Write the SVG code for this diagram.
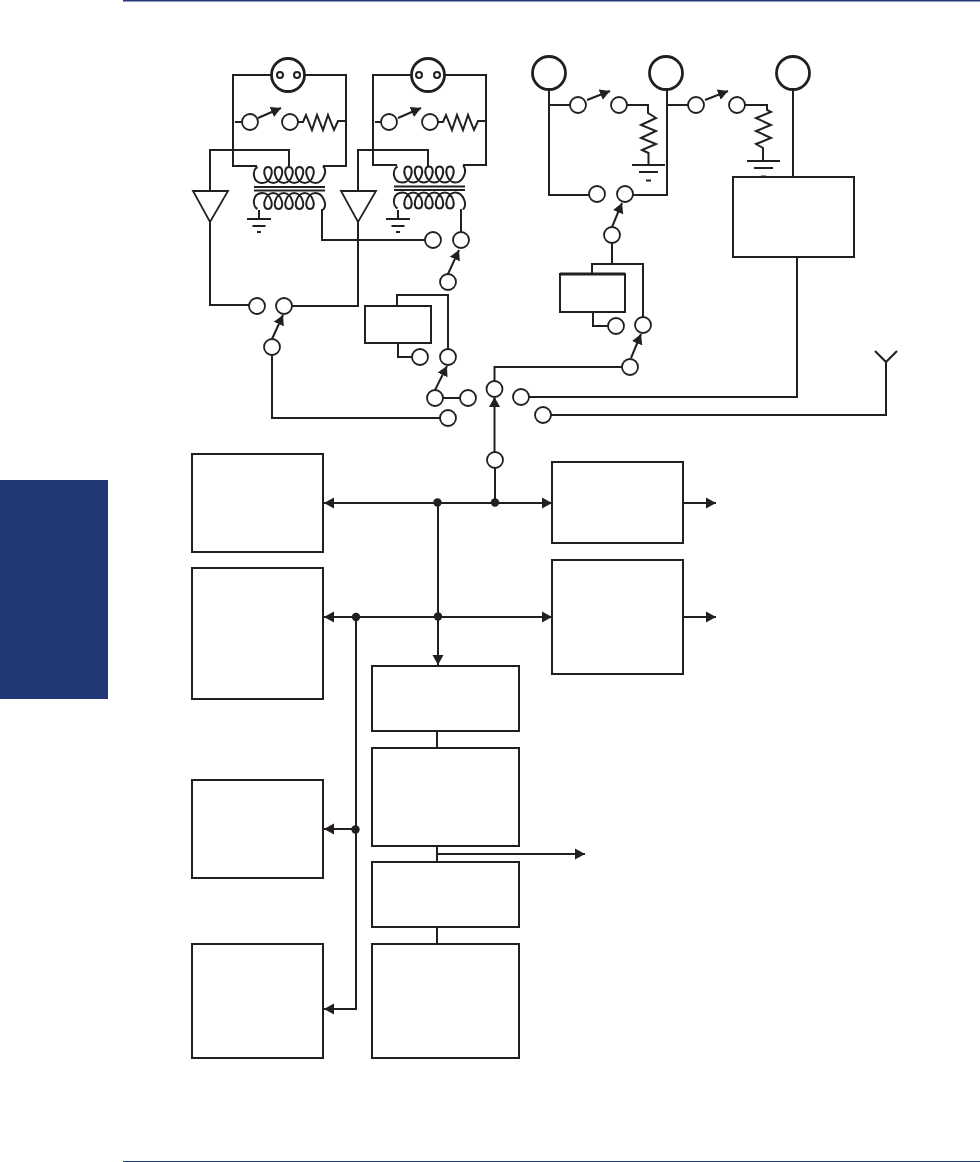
<svg xmlns="http://www.w3.org/2000/svg" width="980" height="1162" viewBox="0 0 980 1162">
<style>
.l{fill:none;stroke:#231f20;stroke-width:2}
.h{fill:#fff;stroke:#231f20;stroke-width:2.800}
.c{fill:#fff;stroke:#231f20;stroke-width:1.800}
.b{fill:#fff;stroke:#231f20;stroke-width:2}
.d{fill:#231f20}
</style>
<defs>
<marker id="a" markerUnits="userSpaceOnUse" markerWidth="11" markerHeight="12" refX="10" refY="6" orient="auto"><path d="M0 0.500L10 6L0 11.500Z" fill="#231f20"/></marker>
<path id="coil" class="l" d="M2.500 1C-3 4-3 17 7.750 17C16.500 17 20 1 13 1c-7 0-3.500 16 5.250 16c8.750 0 12.250-16 5.250-16c-7 0-3.500 16 5.250 16c8.750 0 12.250-16 5.250-16c-7 0-3.500 16 5.250 16c8.750 0 12.250-16 5.250-16c-7 0-3.500 16 5.250 16c8.750 0 12.250-16 5.250-16c-7 0-3.500 16 5.250 16C68 17 73 5 68 0"/>
<g id="transformer">
<use href="#coil"/>
<path class="l" d="M-1 21H70M-1 24.500H70"/>
<use href="#coil" transform="translate(0,44) scale(1,-1)"/>
</g>
<path id="ground" class="l" d="M-12 0H12M-6.500 7H6.500M-2 13H2"/>
<path id="groundLarge" class="l" d="M-16.500 0H16.500M-9.500 7H9.500M-2.500 15.500H2.500"/>
<path id="resH" class="l" d="M0 0H5L8-7L14 8L19-7L25 8L30-7L36 8L40-1H47"/>
</defs>
<rect id="page-rule-top" x="123" y="0" width="857" height="1.500" fill="#22387a"/>
<rect id="page-rule-bottom" x="123" y="1161" width="857" height="1" fill="#22387a"/>
<rect id="side-tab" x="0" y="480" width="108" height="219" fill="#213877"/>
<g id="connectors">
<path class="l" d="M271 75H233V166H257M305 75H346V166H323"/>
<path class="l" d="M411 75H373V165H397M445 75H486V165H463"/>
<path class="l" d="M235 122H242M375 122H381"/>
<path class="l" d="M210 191V150H289V166M358 191V150H428V166"/>
<path class="l" d="M210 222V305H249M292 306H358V222"/>
<path class="l" d="M259 210V219M398 210V219"/>
<path class="l" d="M322 209V240H425M461 209V232"/>
<path class="l" d="M397 306V295H448V349M398 343V357H412"/>
<path class="l" d="M272 355V418H440M443 398H460"/>
<path class="l" d="M494.500 381V367H622M643 317V264H592V274M612 243V264M593 312V326H608"/>
<path class="l" d="M549 90V195H589M633 195H667V90"/>
<path class="l" d="M549 105H570M627 105H648V113L656 118L641 125L656 131L641 138L656 144L642 150L648.500 153V165"/>
<path class="l" d="M667 105H688M745 105H767V110L771 112L756 118L771 125L756 131L771 138L756 144L763 148V161M793 90V178"/>
<path class="l" d="M529 397H797V257M551 415H886V362M875 351L886 362L897 351"/>
<path class="l" marker-end="url(#a)" d="M258 118L281 108"/>
<path class="l" marker-end="url(#a)" d="M398 118L421 108"/>
<path class="l" marker-end="url(#a)" d="M448 274L459 250"/>
<path class="l" marker-end="url(#a)" d="M272 339L283 315"/>
<path class="l" marker-end="url(#a)" d="M435 390L447 366"/>
<path class="l" marker-end="url(#a)" d="M631 358L641 334"/>
<path class="l" marker-end="url(#a)" d="M612 227L622 203"/>
<path class="l" marker-end="url(#a)" d="M587 100L610 91"/>
<path class="l" marker-end="url(#a)" d="M705 100L728 91"/>
<path class="l" marker-end="url(#a)" d="M494.500 452V397"/>
<path class="l" d="M495 468V502"/>
<path class="l" marker-end="url(#a)" d="M438 503H324"/>
<path class="l" marker-end="url(#a)" d="M438 503H552"/>
<path class="l" marker-end="url(#a)" d="M438 617H324"/>
<path class="l" marker-end="url(#a)" d="M438 617H552"/>
<path class="l" marker-end="url(#a)" d="M438 503V665"/>
<path class="l" marker-end="url(#a)" d="M684 503H716"/>
<path class="l" marker-end="url(#a)" d="M684 617H716"/>
<path class="l" marker-end="url(#a)" d="M356 617V1009H324"/>
<path class="l" marker-end="url(#a)" d="M356 829H324"/>
<path class="l" marker-end="url(#a)" d="M437 854H585"/>
<path class="l" d="M437 731V748M437 846V862M437 927V944"/>
</g>
<g id="dots">
<circle class="d" cx="437.500" cy="502.500" r="4.200"/><circle class="d" cx="495" cy="502.500" r="4.200"/>
<circle class="d" cx="356" cy="617" r="4.200"/><circle class="d" cx="438" cy="616.500" r="4.200"/><circle class="d" cx="355.500" cy="829.500" r="4.200"/>
</g>
<g id="lamp1"><circle class="h" cx="288" cy="75" r="16.500"/><circle class="l" cx="280" cy="75" r="3"/><circle class="l" cx="297" cy="75" r="3"/></g>
<g id="lamp2"><circle class="h" cx="428" cy="75" r="16.500"/><circle class="l" cx="419" cy="75" r="3"/><circle class="l" cx="437" cy="75" r="3"/></g>
<g id="jack1"><circle class="h" cx="549" cy="73" r="16.500"/></g>
<g id="jack2"><circle class="h" cx="666" cy="73" r="16.500"/></g>
<g id="jack3"><circle class="h" cx="793" cy="73" r="16.500"/></g>
<g id="transformer1"><use href="#transformer" x="255" y="166"/></g>
<g id="transformer2"><use href="#transformer" x="395" y="165.500"/></g>
<g id="amp1"><path class="c" d="M193 191H228L210 222Z"/></g>
<g id="amp2"><path class="c" d="M341 191H376L358 222Z"/></g>
<g id="grounds"><use href="#ground" x="259" y="219"/><use href="#ground" x="398" y="219"/><use href="#groundLarge" x="648.500" y="165"/><use href="#groundLarge" x="763.500" y="161"/></g>
<g id="resistors"><use href="#resH" x="298" y="122"/><use href="#resH" x="438" y="122"/></g>
<g id="terminals">
<circle class="c" cx="250" cy="122" r="8"/><circle class="c" cx="290" cy="122" r="8"/>
<circle class="c" cx="389" cy="122" r="8"/><circle class="c" cx="430" cy="122" r="8"/>
<circle class="c" cx="433" cy="240" r="8"/><circle class="c" cx="461" cy="240" r="8"/><circle class="c" cx="448" cy="282" r="8"/>
<circle class="c" cx="257" cy="306" r="8"/><circle class="c" cx="284" cy="306" r="8"/><circle class="c" cx="272" cy="347" r="8"/>
<circle class="c" cx="420" cy="357" r="8"/><circle class="c" cx="448" cy="357" r="8"/>
<circle class="c" cx="435" cy="398" r="8"/><circle class="c" cx="468" cy="398" r="8"/><circle class="c" cx="448" cy="418" r="8"/>
<circle class="c" cx="494.500" cy="389" r="8"/><circle class="c" cx="521" cy="397" r="8"/><circle class="c" cx="543" cy="415" r="8"/><circle class="c" cx="495" cy="460" r="8"/>
<circle class="c" cx="578" cy="105" r="8"/><circle class="c" cx="619" cy="105" r="8"/>
<circle class="c" cx="696" cy="105" r="8"/><circle class="c" cx="737" cy="105" r="8"/>
<circle class="c" cx="597" cy="194" r="8"/><circle class="c" cx="625" cy="194" r="8"/><circle class="c" cx="612" cy="235" r="8"/>
<circle class="c" cx="616" cy="326" r="8"/><circle class="c" cx="643" cy="325" r="8"/><circle class="c" cx="630" cy="367" r="8"/>
</g>
<g id="small-box1"><rect class="b" x="365" y="306" width="66" height="37"/></g>
<g id="small-box2"><rect class="b" x="560" y="274" width="65" height="38"/><path class="l" style="stroke-width:2.800" d="M560 274H625"/></g>
<g id="box-a"><rect class="b" x="733" y="177" width="121" height="80"/></g>
<g id="box-b"><rect class="b" x="192" y="454" width="131" height="98"/></g>
<g id="box-c"><rect class="b" x="192" y="568" width="131" height="131"/></g>
<g id="box-d"><rect class="b" x="552" y="462" width="131" height="81"/></g>
<g id="box-e"><rect class="b" x="552" y="560" width="131" height="114"/></g>
<g id="box-f"><rect class="b" x="372" y="666" width="147" height="65"/></g>
<g id="box-g"><rect class="b" x="372" y="748" width="147" height="98"/></g>
<g id="box-h"><rect class="b" x="372" y="862" width="147" height="65"/></g>
<g id="box-i"><rect class="b" x="372" y="944" width="147" height="114"/></g>
<g id="box-j"><rect class="b" x="192" y="780" width="131" height="98"/></g>
<g id="box-k"><rect class="b" x="192" y="944" width="131" height="114"/></g>
</svg>
